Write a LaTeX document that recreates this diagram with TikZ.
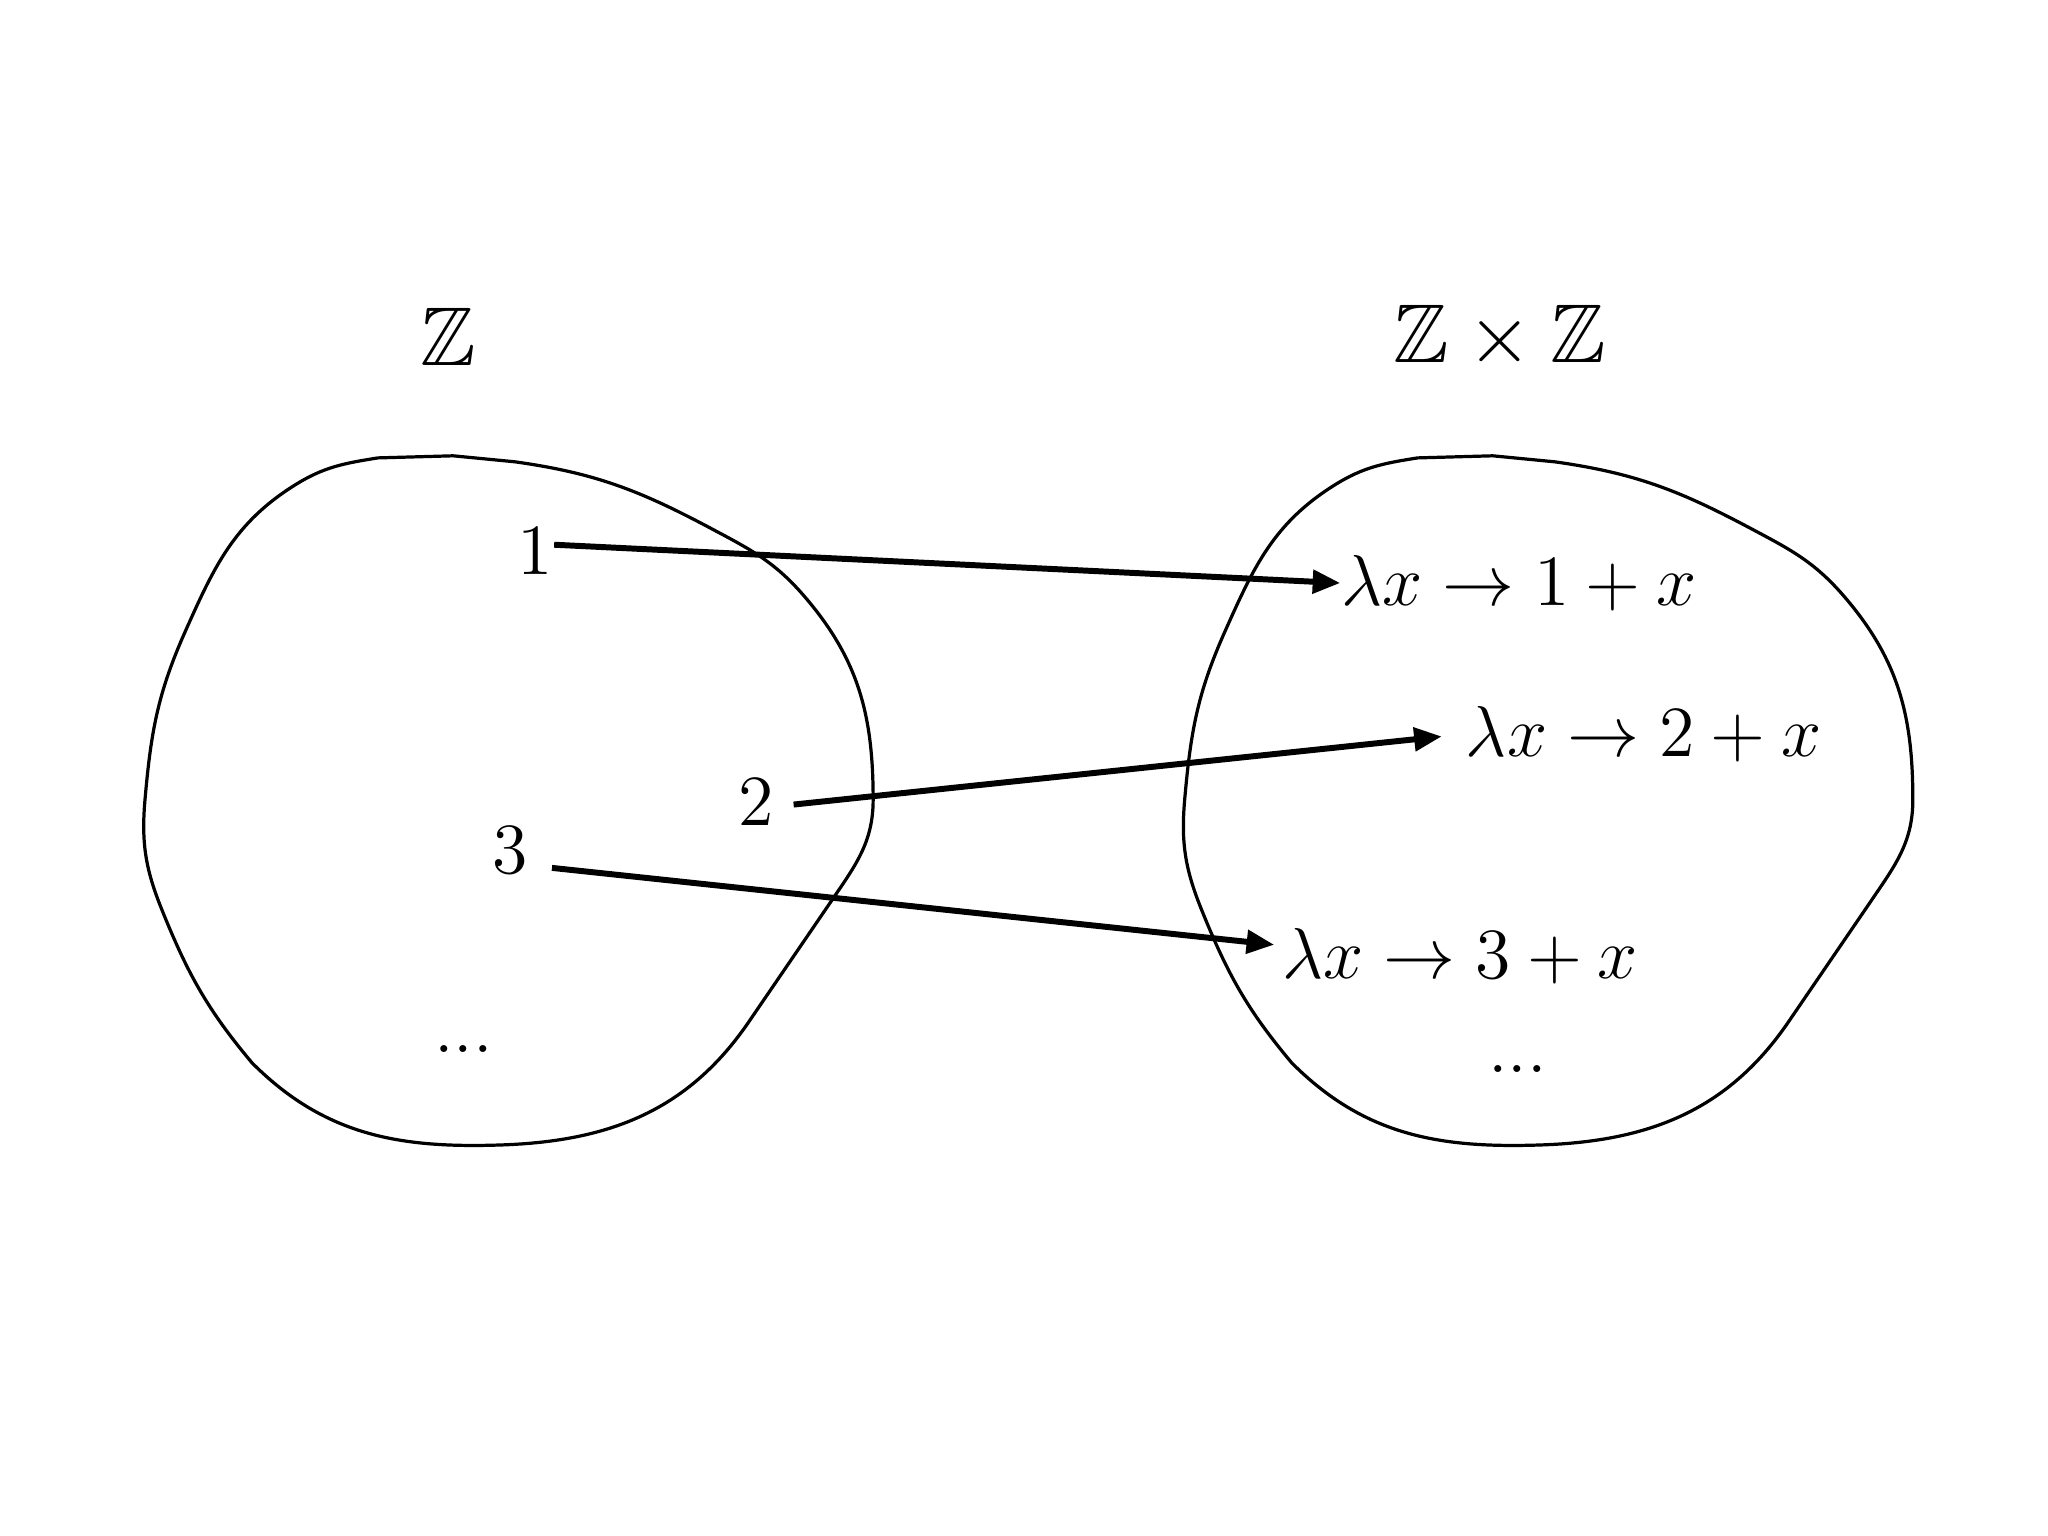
\documentclass[tikz,border=0pt]{standalone}
\usepackage{amssymb}
\usetikzlibrary{arrows.meta}

\begin{document}
\begin{tikzpicture}[blob/.style={line width=0.7pt},
                    set node/.style={font=\LARGE,scale=1.05},
                    elem node/.style={inner sep=0pt,font=\Large,scale=1.09},
                    func node/.style={inner sep=0pt,font=\Large,scale=1.09},
                    map/.style={-{Triangle[length=6pt,width=5pt]},line width=1.3pt}]

  \useasboundingbox (0,0) rectangle (15.68,11.76);

  % the two sets, same outline
  \foreach \dx in {0,7.96}
    \draw[blob,xshift=\dx cm] (2.894,8.254) -- (3.469,8.270) -- (3.943,8.224)
      to[out=-8,in=152] (5.436,7.718) to[out=-28,in=131] (6.149,7.205)
      to[out=-49,in=90] (6.685,5.636) to[out=-90,in=56] (6.355,4.847)
      -- (5.743,3.951) to[out=-124,in=2] (3.844,2.994)
      to[out=182,in=-45] (1.930,3.622) to[out=130,in=-68] (1.240,4.793)
      to[out=112,in=-95] (1.110,5.636) to[out=85,in=-114] (1.417,6.922)
      to[out=66,in=-148] (2.259,8.047) to[out=32,in=-171] (2.894,8.254) -- cycle;

  \node[set node] (Z)  at (3.43,9.18)  {$\mathbb{Z}$};
  \node[set node] (ZZ) at (11.48,9.18) {$\mathbb{Z}\times\mathbb{Z}$};

  \node[elem node] (n1) at (4.10,7.54)  {$1$};
  \node[elem node] (n2) at (5.79,5.62)  {$2$};
  \node[elem node] (n3) at (3.905,5.25) {$3$};
  \node[func node] (d1) at (3.55,3.73)  {...};

  \node[func node] (f1) at (11.63,7.296) {$\lambda x \to 1 + x$};
  \node[func node] (f2) at (12.585,6.14) {$\lambda x \to 2 + x$};
  \node[func node] (f3) at (11.18,4.44)  {$\lambda x \to 3 + x$};
  \node[func node] (d2) at (11.62,3.575) {...};

  \draw[map] ([yshift=1.4pt]n1.east) -- (f1.west);
  \draw[map,shorten <=4.1pt,shorten >=5.1pt] ([yshift=-1pt]n2.east) -- (f2.west);
  \draw[map,shorten <=5.1pt,shorten >=1.6pt] ([yshift=-3.3pt]n3.east) -- ([yshift=2.3pt]f3.west);
\end{tikzpicture}
\end{document}
